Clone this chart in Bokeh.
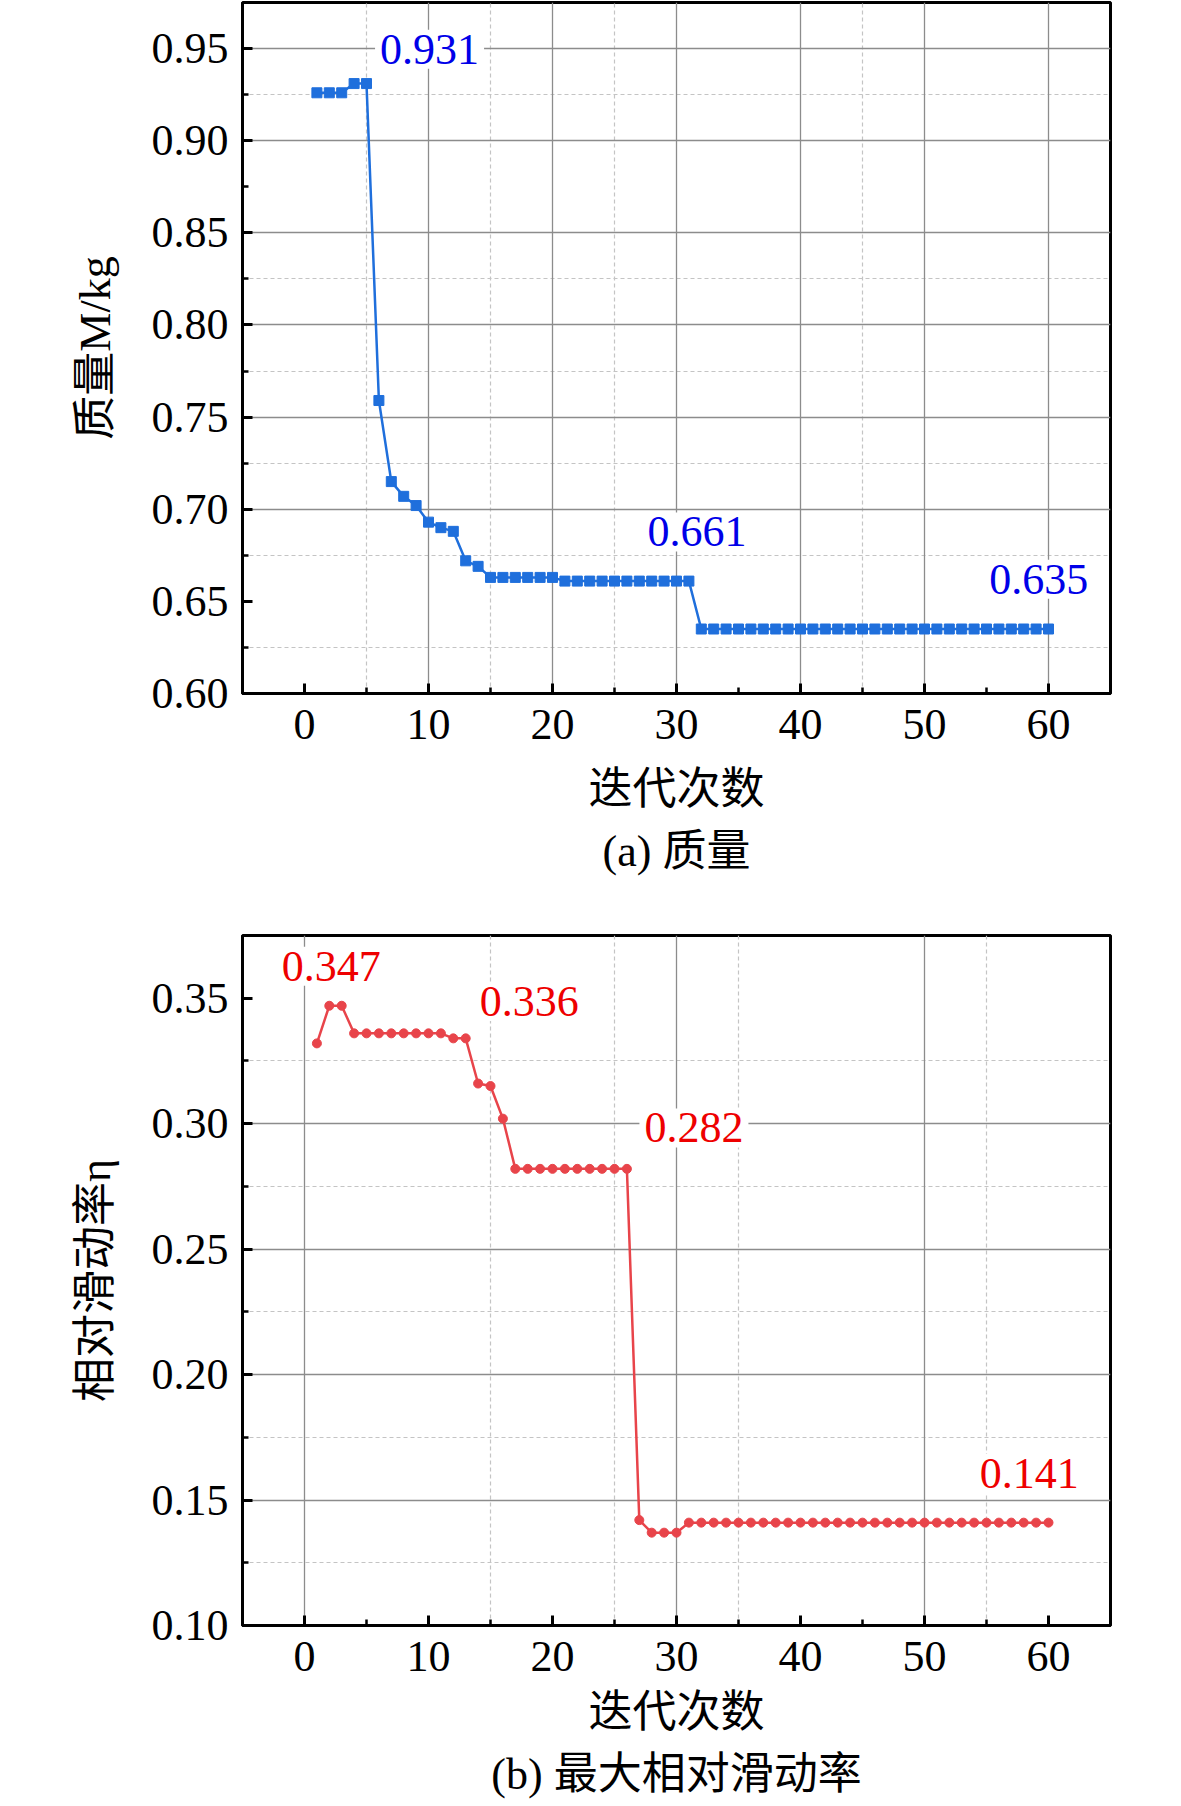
from bokeh.plotting import figure
from bokeh.models import (SingleIntervalTicker, NumeralTickFormatter, Grid, FixedTicker,
                          Label, Title, Range1d)
from bokeh.layouts import column
from bokeh.embed import file_html
from bokeh.resources import INLINE

# ---------------- data ----------------
iterations = list(range(1, 61))

mass = [0.926, 0.926, 0.926, 0.931, 0.931, 0.759, 0.715, 0.707, 0.702, 0.693,
        0.690, 0.688, 0.672, 0.669, 0.663, 0.663, 0.663, 0.663, 0.663, 0.663,
        0.661, 0.661, 0.661, 0.661, 0.661, 0.661, 0.661, 0.661, 0.661, 0.661,
        0.661, 0.635, 0.635, 0.635, 0.635, 0.635, 0.635, 0.635, 0.635, 0.635,
        0.635, 0.635, 0.635, 0.635, 0.635, 0.635, 0.635, 0.635, 0.635, 0.635,
        0.635, 0.635, 0.635, 0.635, 0.635, 0.635, 0.635, 0.635, 0.635, 0.635]

slip = [0.332, 0.347, 0.347, 0.336, 0.336, 0.336, 0.336, 0.336, 0.336, 0.336,
        0.336, 0.334, 0.334, 0.316, 0.315, 0.302, 0.282, 0.282, 0.282, 0.282,
        0.282, 0.282, 0.282, 0.282, 0.282, 0.282, 0.142, 0.137, 0.137, 0.137,
        0.141, 0.141, 0.141, 0.141, 0.141, 0.141, 0.141, 0.141, 0.141, 0.141,
        0.141, 0.141, 0.141, 0.141, 0.141, 0.141, 0.141, 0.141, 0.141, 0.141,
        0.141, 0.141, 0.141, 0.141, 0.141, 0.141, 0.141, 0.141, 0.141, 0.141]

# annotations: (text, x, y) -- anchor is the lower-left corner of the label box
mass_notes = [("0.931", 5.69, 0.9496), ("0.661", 27.25, 0.6877), ("0.635", 54.81, 0.662)]
slip_notes = [("0.347", -2.23, 0.3627), ("0.336", 13.72, 0.3487),
              ("0.282", 27.01, 0.2983), ("0.141", 54.05, 0.1606)]

# grid lines that are visible in the reference
mass_xgrid_major = [10, 20, 30, 40, 50, 60]
mass_xgrid_minor = [5, 15, 25, 45]
mass_ygrid_major = [0.70, 0.75, 0.80, 0.85, 0.90, 0.95]
mass_ygrid_minor = [0.625, 0.675, 0.725, 0.775, 0.825, 0.925]

slip_xgrid_major = [0, 30, 50]
slip_xgrid_minor = [15, 25, 35, 55]
slip_ygrid_major = [0.15, 0.20, 0.25, 0.30]
slip_ygrid_minor = [0.125, 0.175, 0.225, 0.275, 0.325]

SERIF = "'Liberation Serif', serif"
MIXED = "'Liberation Serif', 'Noto Sans CJK SC'"
BLUE = "#1f6fdc"
BLUE_TXT = "#0000e8"
RED = "#e8444a"
RED_TXT = "#ee0000"
FS = "44px"


def make_fig(height, top, bottom, yr, ylabel, caption, xlab_standoff, title_standoff):
    p = figure(width=1130, height=height, x_range=Range1d(-5, 65), y_range=Range1d(*yr),
               output_backend="svg", toolbar_location=None,
               min_border_left=242, min_border_right=20,
               min_border_top=top, min_border_bottom=bottom)
    p.background_fill_color = "white"
    p.border_fill_color = "white"
    p.outline_line_color = "black"
    p.outline_line_width = 3
    p.outline_line_alpha = 1.0
    p.xgrid.visible = False
    p.ygrid.visible = False

    p.xaxis[0].ticker = SingleIntervalTicker(interval=10, num_minor_ticks=2)
    p.yaxis[0].ticker = SingleIntervalTicker(interval=0.05, num_minor_ticks=2)
    p.yaxis[0].formatter = NumeralTickFormatter(format="0.00")
    for ax in (p.xaxis[0], p.yaxis[0]):
        ax.axis_line_width = 3
        ax.axis_line_color = "black"
        ax.major_tick_in = 10
        ax.major_tick_out = 0
        ax.minor_tick_in = 6
        ax.minor_tick_out = 0
        ax.major_tick_line_width = 3
        ax.minor_tick_line_width = 2.5
        ax.major_tick_line_color = "black"
        ax.minor_tick_line_color = "black"
        ax.major_label_text_font = SERIF
        ax.major_label_text_font_size = FS
        ax.major_label_text_color = "black"
        ax.axis_label_text_font = MIXED
        ax.axis_label_text_font_size = FS
        ax.axis_label_text_font_style = "normal"
        ax.axis_label_text_color = "black"
    p.xaxis[0].axis_label = "迭代次数"
    p.xaxis[0].major_label_standoff = 16
    p.xaxis[0].axis_label_standoff = xlab_standoff
    p.yaxis[0].axis_label = ylabel
    p.yaxis[0].major_label_standoff = 14
    p.yaxis[0].axis_label_standoff = 29

    t = Title(text=caption, align="center", text_font=MIXED, text_font_size=FS,
              text_font_style="normal", text_color="black", standoff=title_standoff)
    p.add_layout(t, "below")
    return p


def add_grids(p, xmaj, xmin, ymaj, ymin):
    for dim, ticks in ((0, xmin), (1, ymin)):
        p.add_layout(Grid(dimension=dim, ticker=FixedTicker(ticks=ticks),
                          grid_line_color="#c4c4c4", grid_line_width=1.2,
                          grid_line_dash="4 3"))
    for dim, ticks in ((0, xmaj), (1, ymaj)):
        p.add_layout(Grid(dimension=dim, ticker=FixedTicker(ticks=ticks),
                          grid_line_color="#8c8c8c", grid_line_width=1.3))


def add_notes(p, notes, color):
    for txt, x, y in notes:
        p.add_layout(Label(x=x, y=y, text=txt, text_font=SERIF, text_font_size=FS,
                           text_color=color, text_baseline="alphabetic",
                           background_fill_color="white", padding=5))


# ---------------- (a) mass ----------------
p1 = make_fig(910, 2, 217, (0.60, 0.975), "质量M/kg", "(a) 质量", 23, 16)
add_grids(p1, mass_xgrid_major, mass_xgrid_minor, mass_ygrid_major, mass_ygrid_minor)
p1.line(iterations, mass, line_color=BLUE, line_width=2.5)
p1.scatter(iterations, mass, marker="square", size=10, fill_color=BLUE, line_color=BLUE)
add_notes(p1, mass_notes, BLUE_TXT)

# ---------------- (b) slip ----------------
p2 = make_fig(896, 25, 179, (0.10, 0.375), "相对滑动率η", "(b) 最大相对滑动率", 14, 16)
add_grids(p2, slip_xgrid_major, slip_xgrid_minor, slip_ygrid_major, slip_ygrid_minor)
p2.line(iterations, slip, line_color=RED, line_width=2.5)
p2.scatter(iterations, slip, marker="circle", size=9, fill_color=RED, line_color=RED)
add_notes(p2, slip_notes, RED_TXT)

layout = column(p1, p2, spacing=0)
open("out.html", "w").write(file_html(layout, INLINE))
